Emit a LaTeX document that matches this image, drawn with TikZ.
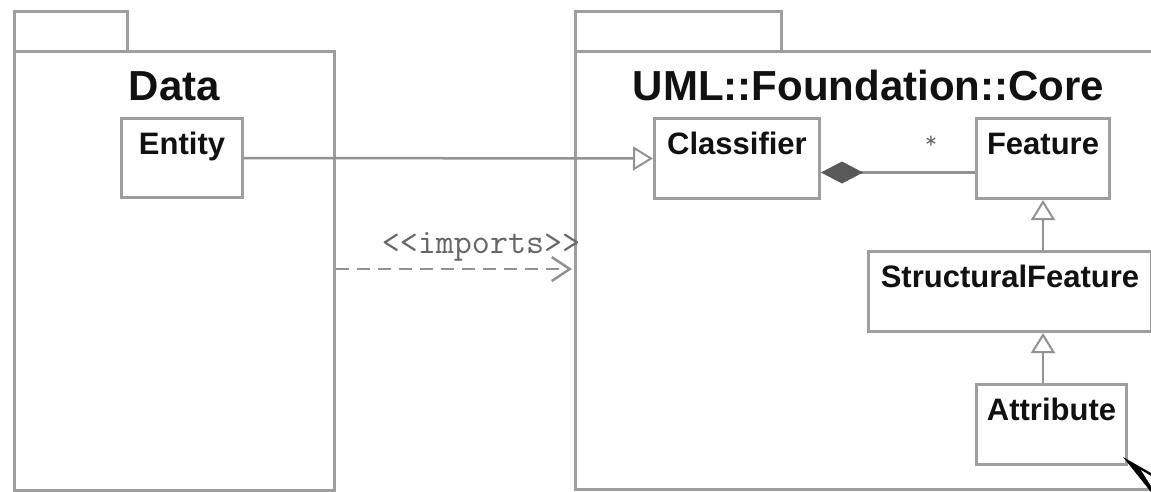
\documentclass[tikz,border=0pt]{standalone}
\usepackage{fontspec}
\setmainfont{Liberation Sans}
\usetikzlibrary{arrows.meta}
\definecolor{edge}{HTML}{9E9E9E}
\definecolor{wire}{HTML}{929292}
\definecolor{ink}{HTML}{111111}
\definecolor{codeink}{HTML}{666666}
\tikzset{
  x=1pt, y=-1pt,
  pkgbox/.style={draw=edge, line width=3pt, rectangle, inner sep=0pt, anchor=north west},
  classbox/.style={draw=edge, line width=3pt, rectangle, inner sep=0pt, anchor=north west},
  pkgtitle/.style={anchor=base, inner sep=0pt, text=ink, font=\fontsize{42}{48}\selectfont\bfseries},
  classname/.style={anchor=base, inner sep=0pt, text=ink, font=\fontsize{31}{36}\selectfont\bfseries},
  codetext/.style={anchor=base, inner sep=0pt, text=codeink, font=\ttfamily\fontsize{35}{40}\selectfont},
  multtext/.style={codetext, font=\ttfamily\fontsize{24}{28}\selectfont},
  assoc/.style={draw=wire, line width=2.5pt},
  inherit/.style={assoc, -{Triangle[open, length=20pt, width=24pt, line width=2pt]}},
  owner/.style={assoc, -{Diamond[length=42pt, width=22pt, fill=black!65, color=black!65]}},
  depend/.style={assoc, dash pattern=on 13pt off 8pt, -{Straight Barb[length=18pt, width=24pt, line width=2.5pt]}},
}
\begin{document}
\begin{tikzpicture}
\useasboundingbox (0,0) rectangle (1151,491);
\fill[white] (0,0) rectangle (1151,491);
\begin{scope}
\clip (0,0) rectangle (1151,491);

% package Data
\node[pkgbox, minimum width=113pt, minimum height=40pt] (datatab) at (13,10) {};
\node[pkgbox, minimum width=320pt, minimum height=439pt] (datapkg) at (13,50) {};
\node[pkgtitle] (datatitle) at ([yshift=-50pt]datapkg.north) {Data};

% package UML::Foundation::Core
\node[pkgbox, minimum width=206pt, minimum height=40pt] (coretab) at (574,10) {};
\node[pkgbox, minimum width=586pt, minimum height=438pt] (corepkg) at (574,50) {};
\node[pkgtitle] (coretitle) at ([yshift=-50pt]corepkg.north) {UML::Foundation::Core};

% classes
\node[classbox, minimum width=121pt, minimum height=79pt] (entity) at (120,117) {};
\node[classname] (entityname) at ([yshift=-37pt]entity.north) {Entity};

\node[classbox, minimum width=165pt, minimum height=80pt] (classifier) at (653,117) {};
\node[classname] (classifiername) at ([yshift=-37pt]classifier.north) {Classifier};

\node[classbox, minimum width=133pt, minimum height=80pt] (feature) at (975,117) {};
\node[classname] (featurename) at ([yshift=-37pt]feature.north) {Feature};

\node[classbox, minimum width=283pt, minimum height=80pt] (structural) at (867,250) {};
\node[classname] (structuralname) at ([yshift=-37pt]structural.north) {StructuralFeature};

\node[classbox, minimum width=150pt, minimum height=80pt] (attribute) at (975,383) {};
\node[classname] (attributename) at ([yshift=-37pt]attribute.north) {Attribute};

% relations
\draw[inherit] (entity.east) -- (classifier.west);
\draw[owner] ([yshift=-14pt]feature.west) -- ([yshift=-14pt]classifier.east);
\node[multtext] (mult) at (931,148) {*};
\draw[inherit] (feature.south |- structural.north) -- (feature.south);
\draw[inherit] (feature.south |- attribute.north) -- (feature.south |- structural.south);

\coordinate (deprow) at (0,269);
\draw[depend] (datapkg.east |- deprow) -- ([xshift=-2pt]corepkg.west |- deprow);
\node[codetext] (importslabel) at (481,253) {<<imports>>};

% mouse pointer
\fill[black] (1123,457) -- (1151,473) -- (1151,492) -- cycle;
\fill[white] (1141,470) -- (1151,476) -- (1151,486) -- cycle;
\end{scope}
\end{tikzpicture}
\end{document}
